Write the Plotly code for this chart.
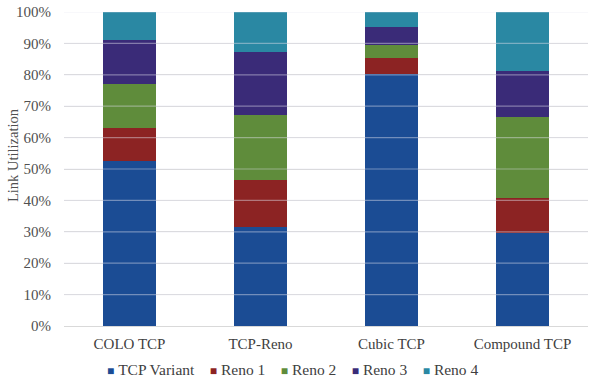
import plotly.graph_objects as go

categories = ["COLO TCP", "TCP-Reno", "Cubic TCP", "Compound TCP"]
series_names = ["TCP Variant", "Reno 1", "Reno 2", "Reno 3", "Reno 4"]
tcp_variant = [52.7, 31.6, 80.3, 29.7]
reno1 = [10.3, 14.8, 5.0, 11.0]
reno2 = [14.2, 20.8, 4.3, 25.8]
reno3 = [14.0, 20.2, 5.5, 14.7]
reno4 = [8.8, 12.6, 4.9, 18.8]
tick_vals = [0, 10, 20, 30, 40, 50, 60, 70, 80, 90, 100]
tick_text = [f"{v}%" for v in tick_vals]

colors = ["#1B4C94", "#8C2323", "#5F8C3B", "#3A2B78", "#2A88A3"]
values = [tcp_variant, reno1, reno2, reno3, reno4]

fig = go.Figure()
for name, vals, col in zip(series_names, values, colors):
    fig.add_trace(go.Bar(x=categories, y=vals, name=name, marker_color=col,
                         marker_line_width=0, width=0.4))

# light gridlines drawn over bars (as in the reference)
for v in tick_vals[1:]:
    fig.add_shape(type="line", xref="paper", yref="y", x0=0, x1=1, y0=v, y1=v,
                  line=dict(color="rgba(225,225,235,0.45)", width=1.2), layer="above")

# compact legend as real text
gap = "&nbsp;" * 4
legend_parts = []
for name, col in zip(series_names, colors):
    legend_parts.append(
        f'<span style="color:{col};font-size:12px">■</span>&nbsp;{name}')
legend_text = gap.join(legend_parts)
fig.add_annotation(text=legend_text, xref="paper", yref="paper", x=0.436, y=-0.14,
                   xanchor="center", yanchor="middle", showarrow=False,
                   font=dict(family="Liberation Serif, Times New Roman, serif",
                             size=15.5, color="#404040"))

# y-axis title
fig.add_annotation(text="Link Utilization", xref="paper", yref="paper", x=-0.097, y=0.545,
                   xanchor="center", yanchor="middle", textangle=-90, showarrow=False,
                   font=dict(family="Liberation Serif", size=14.5, color="#505050"))

fig.update_layout(
    barmode="stack",
    width=593, height=382,
    margin=dict(l=64, r=5, t=12, b=56),
    paper_bgcolor="white", plot_bgcolor="white",
    font=dict(family="Liberation Serif", size=15, color="#505050"),
    showlegend=False,
)
fig.update_yaxes(range=[0, 100], tickvals=tick_vals, ticktext=tick_text,
                 showgrid=True, gridcolor="#D9D9D9", gridwidth=1, zeroline=False,
                 showline=False, ticks="", ticklabelstandoff=12,
                 tickfont=dict(size=15, color="#505050"))
fig.update_xaxes(showline=True, linecolor="#D9D9D9", ticks="", ticklabelstandoff=4,
                 tickfont=dict(size=15, color="#404040"))

fig.write_html("out.html")
